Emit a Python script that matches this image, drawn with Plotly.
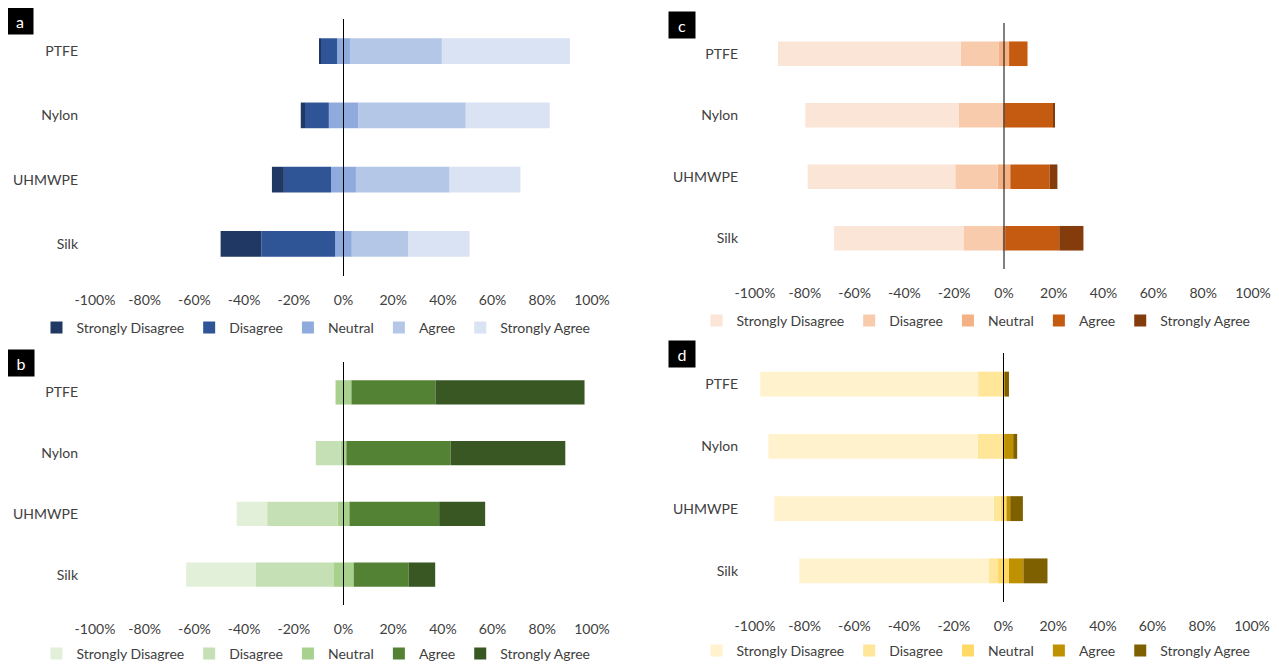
import plotly.graph_objects as go

# The page body has an 8px margin, so the figure is drawn 8px in from the corner
OFF = 8
W, H = 1279 - OFF, 665 - OFF

categories = ["PTFE", "Nylon", "UHMWPE", "Silk"]
responses = ["Strongly Disagree", "Disagree", "Neutral", "Agree", "Strongly Agree"]
tick_vals = [-100, -80, -60, -40, -20, 0, 20, 40, 60, 80, 100]
tick_text = ["-100%", "-80%", "-60%", "-40%", "-20%", "0%", "20%", "40%", "60%", "80%", "100%"]

# Panel a (values in %, order PTFE, Nylon, UHMWPE, Silk)
a_sd = [0.5, 1.7, 4.8, 16.4]
a_d = [6.5, 9.6, 19.0, 29.7]
a_n = [5.2, 11.8, 10.0, 6.7]
a_a = [37.0, 43.3, 37.7, 22.8]
a_sa = [51.5, 33.8, 28.5, 24.6]

# Panel b
b_sd = [0.0, 0.0, 12.3, 27.9]
b_d = [0.0, 10.0, 28.3, 31.3]
b_n = [6.4, 2.3, 4.8, 8.2]
b_a = [33.8, 42.0, 36.1, 22.1]
b_sa = [60.0, 46.1, 18.5, 10.7]

# Panel c
c_sd = [73.4, 61.7, 59.3, 51.9]
c_d = [15.3, 17.8, 17.0, 15.8]
c_n = [4.1, 0.6, 5.1, 1.0]
c_a = [7.4, 19.6, 15.8, 21.7]
c_sa = [0.0, 0.5, 3.1, 9.7]

# Panel d
d_sd = [87.7, 84.3, 88.3, 76.2]
d_d = [10.0, 10.0, 2.7, 3.8]
d_n = [0.4, 0.6, 2.4, 4.4]
d_a = [0.4, 3.6, 1.5, 5.8]
d_sa = [1.6, 1.6, 5.1, 9.7]

colors_a = ["#203864", "#2F5597", "#8FAADC", "#B4C7E7", "#DAE3F3"]
colors_b = ["#E2F0D9", "#C5E0B4", "#A9D18E", "#548235", "#385723"]
colors_c = ["#FBE5D6", "#F8CBAD", "#F4B183", "#C55A11", "#843C0C"]
colors_d = ["#FFF2CC", "#FFE699", "#FFD966", "#BF9000", "#7F6000"]

FONT = "Lato"
TXT = "#404040"


def fx(px):
    return (px - OFF) / W


def fy(py):
    return 1 - (py - OFF) / H


panels = [
    dict(name="a", data=(a_sd, a_d, a_n, a_a, a_sa), colors=colors_a,
         px=(95, 592), py=(19, 276), leg=(316, 328), box=(20, 20.5)),
    dict(name="b", data=(b_sd, b_d, b_n, b_a, b_sa), colors=colors_b,
         px=(95, 592), py=(362, 605), leg=(316, 654), box=(21, 363)),
    dict(name="c", data=(c_sd, c_d, c_n, c_a, c_sa), colors=colors_c,
         px=(755, 1253), py=(23, 269), leg=(976, 321), box=(682, 25)),
    dict(name="d", data=(d_sd, d_d, d_n, d_a, d_sa), colors=colors_d,
         px=(755, 1252), py=(353, 602), leg=(976, 651), box=(682, 354)),
]

fig = go.Figure()
layout = dict(
    width=W, height=H,
    margin=dict(l=0, r=0, t=0, b=0, autoexpand=False),
    paper_bgcolor="white", plot_bgcolor="white",
    barmode="relative", bargap=0.6,
    font=dict(family=FONT, size=14, color=TXT),
    shapes=[], annotations=[],
)

for i, p in enumerate(panels):
    k = "" if i == 0 else str(i + 1)
    xa, ya = "x" + k, "y" + k
    leg = "legend" + k
    sd, d, n, a, sa = p["data"]
    cols = p["colors"]
    half_n = [v / 2 for v in n]
    specs = [
        ("Neutral", [-v for v in half_n], cols[2], 3, True),
        ("Disagree", [-v for v in d], cols[1], 2, True),
        ("Strongly Disagree", [-v for v in sd], cols[0], 1, True),
        ("Neutral", half_n, cols[2], 3, False),
        ("Agree", a, cols[3], 4, True),
        ("Strongly Agree", sa, cols[4], 5, True),
    ]
    for name, vals, col, rank, show in specs:
        fig.add_trace(go.Bar(
            y=categories, x=vals, orientation="h", name=name,
            marker=dict(color=col, line=dict(width=0)),
            xaxis=xa, yaxis=ya, legend=leg, legendgroup=p["name"] + name,
            legendrank=rank, showlegend=show, hoverinfo="skip",
        ))
    x0, x1 = p["px"]
    y0, y1 = p["py"]
    layout["xaxis" + k] = dict(
        domain=[fx(x0), fx(x1)], anchor=ya, range=[-100, 100],
        tickvals=tick_vals, ticktext=tick_text, showgrid=False, zeroline=False,
        showline=False, ticks="", ticklabelstandoff=14, automargin=False,
        tickfont=dict(family=FONT, size=14, color=TXT), fixedrange=True,
    )
    layout["yaxis" + k] = dict(
        domain=[fy(y1), fy(y0)], anchor=xa, type="category",
        categoryorder="array", categoryarray=categories, autorange="reversed",
        showgrid=False, zeroline=False, showline=False, ticks="", automargin=False,
        ticklabelstandoff=16, tickfont=dict(family=FONT, size=14, color=TXT),
        fixedrange=True,
    )
    lx, ly = p["leg"]
    layout[leg] = dict(
        orientation="h", x=fx(lx), xanchor="center",
        y=fy(ly), yanchor="middle", itemwidth=30,
        font=dict(family=FONT, size=14, color=TXT), bgcolor="rgba(0,0,0,0)",
        traceorder="normal", itemclick=False, itemdoubleclick=False,
    )
    layout["shapes"].append(dict(
        type="line", xref=xa, yref=ya + " domain", x0=0, x1=0, y0=0, y1=1,
        line=dict(color="#000000", width=1), layer="above",
    ))
    bx, by = p["box"]
    layout["annotations"].append(dict(
        text=p["name"], xref="paper", yref="paper", x=fx(bx), y=fy(by),
        xanchor="center", yanchor="middle", showarrow=False, width=24, height=24,
        bgcolor="#000000", font=dict(family=FONT, size=16, color="#FFFFFF"),
    ))

fig.update_layout(**layout)
fig.write_html("out.html")
